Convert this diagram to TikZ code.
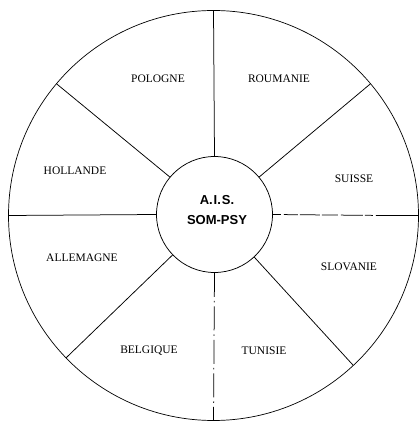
\documentclass[tikz,border=0pt]{standalone}
\usepackage{fontspec}
\setmainfont{Liberation Serif}
\newfontfamily\centerfont{Liberation Sans}
\usetikzlibrary{calc}
\begin{document}
\begin{tikzpicture}[x=1pt,y=1pt,
  spoke/.style={line width=0.75pt},
  lbl/.style={font=\fontsize{11.5}{13}\selectfont, inner sep=0pt},
  ctr/.style={font=\centerfont\bfseries\fontsize{13}{15}\selectfont, inner sep=0pt}]
\useasboundingbox (0,0) rectangle (419,425);
\coordinate (O) at (213.5,209.5);
\draw[line width=0.7pt] (O) circle (205);
\node[circle, draw, line width=0.75pt, minimum size=116pt, inner sep=0pt] (c) at (214.5,210.5) {};
\node[ctr] (t1) at (217,225) {A.\kern1pt I.\kern1pt S.};
\node[ctr] (t2) at (217,205) {SOM-PSY};
% outer ends
\foreach \a in {90,40,0,-47,-90,-136,180,140}{
  \coordinate (o\a) at ($(O)+(\a:205)$);
}
\draw[spoke] (c.90) -- (o90);
\draw[spoke] (c.40) -- (o40);
\coordinate (m0) at (385,209.5);
\draw[spoke, dash pattern=on 8pt off 3pt on 14pt off 2pt on 20pt off 2pt on 16pt off 3pt on 22pt off 2pt] (c.0) -- (m0);
\draw[spoke] (m0) -- (o0);
\draw[spoke] (c.-47) -- (o-47);
\draw[spoke, dash pattern=on 24pt off 4pt on 1.5pt off 4pt] (c.-90) -- (o-90);
\draw[spoke] (c.-136) -- (o-136);
\draw[spoke] (c.180) -- (o180);
\draw[spoke] (c.140) -- (o140);
\node[lbl] (pol) at (158,346) {POLOGNE};
\node[lbl] (rou) at (279,346) {ROUMANIE};
\node[lbl] (hol) at (75,254) {HOLLANDE};
\node[lbl] (sui) at (354,246) {SUISSE};
\node[lbl] (all) at (82,167) {ALLEMAGNE};
\node[lbl] (slo) at (349,158) {SLOVANIE};
\node[lbl] (bel) at (149,74) {BELGIQUE};
\node[lbl] (tun) at (264,74) {TUNISIE};
\end{tikzpicture}
\end{document}
